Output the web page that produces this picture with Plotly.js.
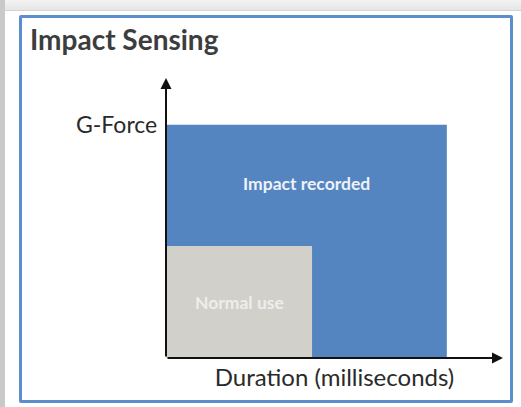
<!DOCTYPE html>
<html>
<head>
<meta charset="utf-8">
<script src="https://cdn.plot.ly/plotly-3.0.1.min.js"></script>
<style>
  html, body { margin: 0; padding: 0; width: 521px; height: 407px; overflow: hidden; background: #ffffff; }
  #frame { position: absolute; left: 0; top: 0; width: 521px; height: 407px; }
  #leftstrip { position: absolute; left: 0; top: 0; width: 5px; height: 407px; background: #c9c9c9; }
  #topstrip { position: absolute; left: 0; top: 0; width: 521px; height: 10px; background: linear-gradient(#f3f3f3, #e6e6e6); border-bottom: 1px solid #d4d4d4; }
  #border { position: absolute; left: 19px; top: 15px; width: 488px; height: 382px; border: 3px solid #5b8dcf; border-radius: 2px; }
  #chart { position: absolute; left: 0; top: 0; width: 521px; height: 407px; }
</style>
</head>
<body>
<div id="frame">
  <div id="topstrip"></div>
  <div id="leftstrip"></div>
  <div id="border"></div>
  <div id="chart"></div>
</div>
<script>
// Data
const zones = ["Impact recorded", "Normal use"];
const durationMax = [10, 5.2];   // x extent of each zone
const gForceMax = [10, 4.8];     // y extent of each zone
const zoneColors = ["#5585c1", "#d1d0cb"];
const labelColors = ["#eef2f8", "#eeeeeb"];
const labelX = [5.0, 2.6];
const labelY = [7.5, 2.4];
const axisMax = 12;

const FONT = "Lato, 'Open Sans', sans-serif";

const traces = zones.map((z, i) => ({
  type: "scatter",
  mode: "lines",
  x: [0, durationMax[i], durationMax[i], 0, 0],
  y: [0, 0, gForceMax[i], gForceMax[i], 0],
  fill: "toself",
  fillcolor: zoneColors[i],
  line: { width: 0, color: zoneColors[i] },
  hoverinfo: "skip",
  name: z,
  showlegend: false
}));

const annotations = zones.map((z, i) => ({
  x: labelX[i], y: labelY[i], xref: "x", yref: "y",
  text: "<b>" + z + "</b>", showarrow: false,
  font: { family: FONT, size: 17.5, color: labelColors[i] }
}));

// Axis arrows
annotations.push({
  x: axisMax, y: 0, ax: 0, ay: 0, xref: "x", yref: "y", axref: "x", ayref: "y",
  showarrow: true, arrowhead: 2, arrowsize: 1.1, arrowwidth: 2, arrowcolor: "#111111", text: ""
});
annotations.push({
  x: 0, y: axisMax, ax: 0, ay: 0, xref: "x", yref: "y", axref: "x", ayref: "y",
  showarrow: true, arrowhead: 2, arrowsize: 1.1, arrowwidth: 2, arrowcolor: "#111111", text: ""
});
// G-Force label
annotations.push({
  x: 0, y: gForceMax[0], xref: "x", yref: "y", xanchor: "right", yanchor: "middle", xshift: -7, yshift: 1,
  text: "G-Force", showarrow: false,
  font: { family: FONT, size: 23, color: "#2a2a2a" }
});

const layout = {
  width: 521, height: 407,
  paper_bgcolor: "rgba(0,0,0,0)",
  plot_bgcolor: "rgba(0,0,0,0)",
  margin: { l: 166, r: 18, t: 78, b: 49 },
  title: {
    text: "<b>Impact Sensing</b>",
    x: 30 / 521, xref: "container", xanchor: "left",
    y: 1, yref: "container", yanchor: "top",
    pad: { t: 30 },
    font: { family: FONT, size: 28, color: "#3d3d3d" }
  },
  xaxis: {
    range: [0, axisMax], showgrid: false, zeroline: false, showticklabels: false, ticks: "",
    fixedrange: true,
    title: { text: "Duration (milliseconds)", standoff: 11,
      font: { family: FONT, size: 24, color: "#2a2a2a" } }
  },
  yaxis: {
    range: [0, axisMax], showgrid: false, zeroline: false, showticklabels: false, ticks: "",
    fixedrange: true
  },
  annotations: annotations,
  showlegend: false
};

Plotly.newPlot("chart", traces, layout, { displayModeBar: false, staticPlot: true });
</script>
</body>
</html>
